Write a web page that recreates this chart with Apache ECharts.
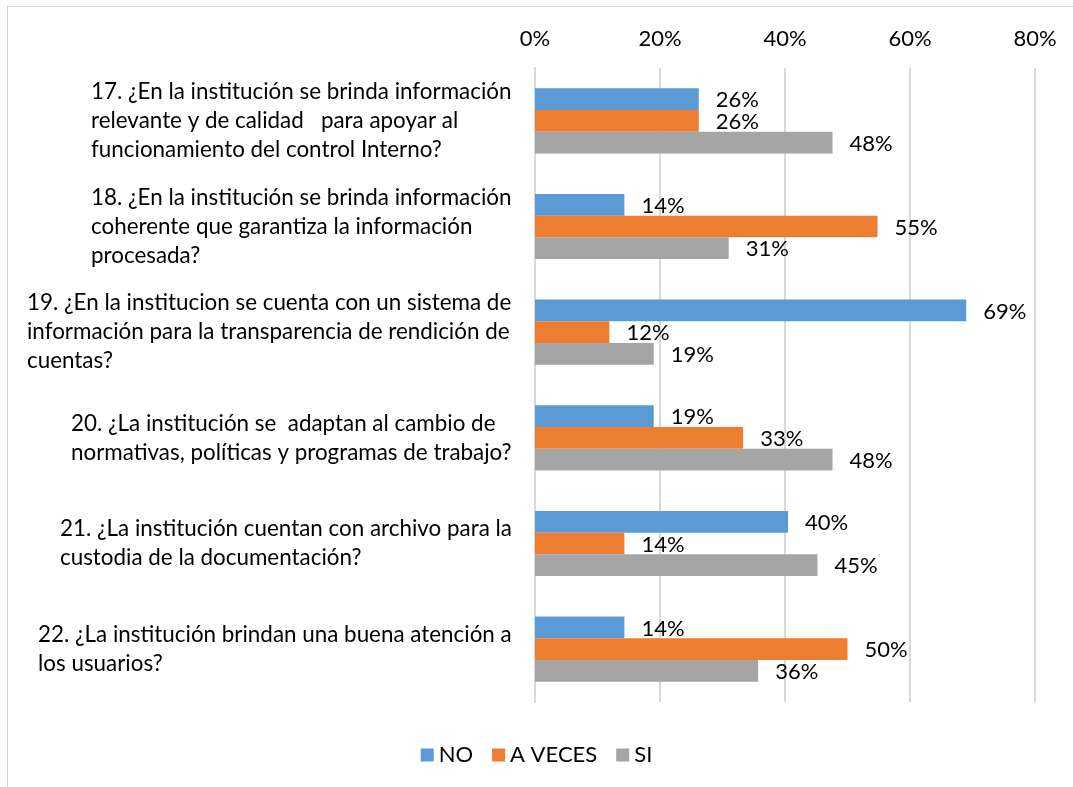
<!DOCTYPE html>
<html>
<head>
<meta charset="utf-8">
<script src="https://cdn.jsdelivr.net/npm/echarts@6/dist/echarts.min.js"></script>
<style>
  html, body { margin: 0; padding: 0; background: #fff; overflow: hidden; }
  #chart { width: 1073px; height: 787px; }
  #frame { position: absolute; left: 7px; top: 6px; width: 1080px; height: 800px; border: 1px solid #d9d9d9; pointer-events: none; }
</style>
</head>
<body>
<div id="chart"></div>
<div id="frame"></div>
<script>
const categories = [
  "17. ¿En la institución se brinda información\nrelevante y de calidad   para apoyar al\nfuncionamiento del control Interno?",
  "18. ¿En la institución se brinda información\ncoherente que garantiza la información\nprocesada?",
  "19. ¿En la institucion se cuenta con un sistema de\ninformación para la transparencia de rendición de\ncuentas?",
  "20. ¿La institución se  adaptan al cambio de\nnormativas, políticas y programas de trabajo?",
  "21. ¿La institución cuentan con archivo para la\ncustodia de la documentación?",
  "22. ¿La institución brindan una buena atención a\nlos usuarios?"
];
const seriesNames = ["NO", "A VECES", "SI"];
const noValues = [26.2, 14.3, 69.0, 19.0, 40.48, 14.3];
const aVecesValues = [26.2, 54.8, 11.9, 33.3, 14.3, 50.0];
const siValues = [47.6, 31.0, 19.0, 47.6, 45.2, 35.7];
const xTicks = [0, 20, 40, 60, 80];

const colors = ["#5b9bd5", "#ed7d31", "#a5a5a5"];
const FONT = "Lato";
const FS = 22.4;

// measure each label block so lines stay left-aligned inside a right-aligned block
const ctx = document.createElement("canvas").getContext("2d");
ctx.font = FS + "px " + FONT;
const rich = {};
categories.forEach((c, i) => {
  const w = Math.max(...c.split("\n").map((l) => ctx.measureText(l).width));
  rich["c" + i] = { width: Math.ceil(w), align: "left", fontSize: FS, fontFamily: FONT, color: "#000", lineHeight: 29 };
});

const chart = echarts.init(document.getElementById("chart"));

function barSeries(name, data, color) {
  return {
    name,
    type: "bar",
    data,
    barWidth: 21.7,
    barGap: "0%",
    itemStyle: { color },
    label: {
      show: true,
      position: "right",
      distance: 17,
      offset: [0, 1],
      fontSize: 22,
      fontFamily: FONT,
      color: "#000",
      formatter: (p) => Math.round(p.value) + "%",
    },
  };
}

chart.setOption({
  animation: false,
  grid: { left: 535, right: 38, top: 68, bottom: 85 },
  legend: {
    data: seriesNames,
    bottom: 16,
    left: "center",
    icon: "rect",
    itemWidth: 13,
    itemHeight: 13,
    itemGap: 19,
    textStyle: { fontSize: 22, fontFamily: FONT, color: "#000" },
  },
  xAxis: {
    type: "value",
    position: "top",
    min: xTicks[0],
    max: xTicks[xTicks.length - 1],
    interval: 20,
    axisLine: { show: false },
    axisTick: { show: false },
    splitLine: { lineStyle: { color: "#d9d9d9", width: 2 } },
    axisLabel: { formatter: "{value}%", fontSize: 22, fontFamily: FONT, color: "#000", margin: 18 },
  },
  yAxis: {
    type: "category",
    inverse: true,
    data: categories,
    axisLine: { lineStyle: { color: "#d9d9d9", width: 2 } },
    axisTick: { show: false },
    axisLabel: {
      align: "right",
      margin: 23,
      formatter: (v) => {
        const i = categories.indexOf(v);
        return v.split("\n").map((l) => "{c" + i + "|" + l + "}").join("\n");
      },
      rich,
    },
  },
  series: [
    barSeries(seriesNames[0], noValues, colors[0]),
    barSeries(seriesNames[1], aVecesValues, colors[1]),
    barSeries(seriesNames[2], siValues, colors[2]),
  ],
});
</script>
</body>
</html>
